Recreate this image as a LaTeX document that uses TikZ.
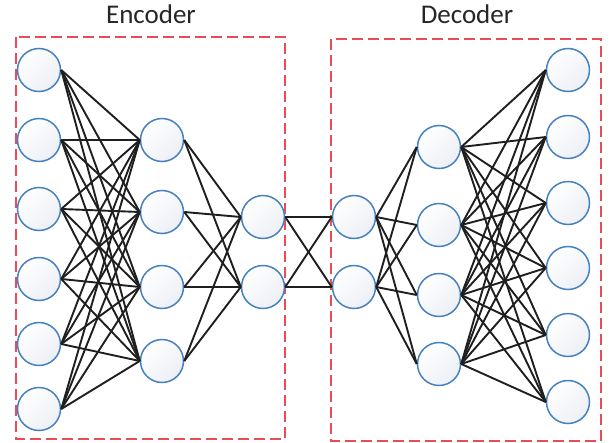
\documentclass[tikz,border=0pt]{standalone}
\usepackage{fontspec}
\setmainfont{Carlito}
\usetikzlibrary{positioning}
\definecolor{netblue}{RGB}{70,130,192}
\definecolor{boxred}{RGB}{232,76,84}
\definecolor{netfill}{RGB}{236,239,245}
\tikzset{neuron/.style={circle,draw=netblue,line width=1.5pt,minimum size=43pt,inner sep=0pt,top color=white,bottom color=netfill,shading angle=45},
link/.style={line width=1.9pt,color=black!88},
groupbox/.style={draw=boxred,line width=1.2pt,dash pattern=on 11pt off 5pt},
title/.style={anchor=base,font=\fontsize{27}{32}\selectfont,text=black!85}}

\begin{document}
\begin{tikzpicture}[x=1pt,y=-1pt]
\useasboundingbox (0,0) rectangle (610,442);
\draw[groupbox] (16,37) rectangle (285,439);
\draw[groupbox] (331,39) rectangle (601,441);
\node[title] (enc) at (151,23) {Encoder};
\node[title] (dec) at (467,23) {Decoder};

\foreach \y [count=\i] in {70,140,209,279,344,409} \node[neuron] (A\i) at (39,\y) {};
\foreach \y [count=\i] in {140,212,287,361} \node[neuron] (B\i) at (162,\y) {};
\foreach \y [count=\i] in {217,287} \node[neuron] (C\i) at (263,\y) {};
\foreach \y [count=\i] in {217,287} \node[neuron] (D\i) at (354,\y) {};
\foreach \y [count=\i] in {147,225,295,364} \node[neuron] (E\i) at (439,\y) {};
\foreach \y [count=\i] in {70,137,203,268,335,402} \node[neuron] (F\i) at (568,\y) {};

\foreach \i in {1,...,6} \foreach \j in {1,...,4} \draw[link] (A\i.east) -- (B\j.west);
\foreach \i in {1,...,4} \foreach \j in {1,2} \draw[link] (B\i.east) -- (C\j.west);
\foreach \i in {1,2} \foreach \j in {1,2} \draw[link] (C\i.east) -- (D\j.west);
\foreach \i in {1,2} \foreach \j in {1,...,4} \draw[link] (D\i.east) -- (E\j.west);
\foreach \i in {1,...,4} \foreach \j in {1,...,6} \draw[link] (E\i.east) -- (F\j.west);
\end{tikzpicture}
\end{document}
